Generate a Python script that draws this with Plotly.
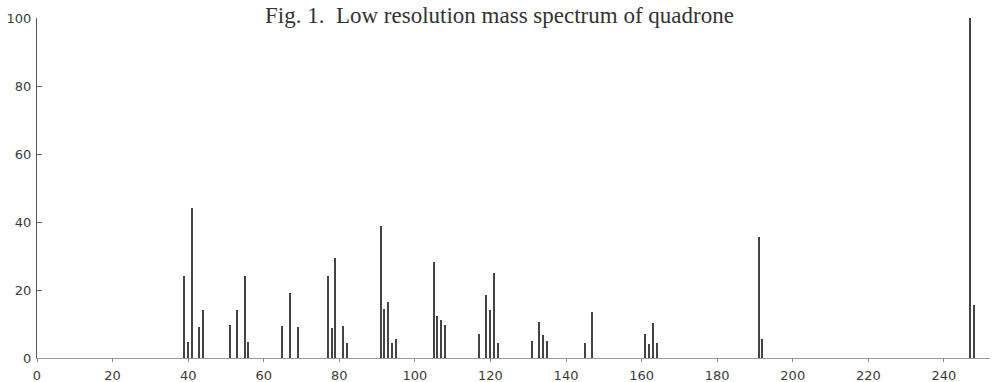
import plotly.graph_objects as go

# m/z values and relative intensities
mz = [39, 40, 41, 43, 44,
      51, 53, 55, 56,
      65, 67, 69,
      77, 78, 79, 81, 82,
      91, 92, 93, 94, 95,
      105, 106, 107, 108,
      117, 119, 120, 121, 122,
      131, 133, 134, 135,
      145, 147,
      161, 162, 163, 164,
      191, 192,
      247, 248]
intensity = [24, 4.6, 44, 9.2, 14,
             9.6, 14.2, 24, 4.6,
             9.4, 19, 9.1,
             24, 8.7, 29.3, 9.5, 4.3,
             38.7, 14.3, 16.6, 4.5, 5.5,
             28.3, 12.3, 11.3, 9.7,
             7.2, 18.6, 14, 25.1, 4.3,
             5, 10.5, 6.8, 5,
             4.3, 13.5,
             7, 4.2, 10.2, 4.5,
             35.5, 5.5,
             100, 15.7]

x_ticks = [0, 20, 40, 60, 80, 100, 120, 140, 160, 180, 200, 220, 240]
x_tick_labels = ["0", "20", "40", "60", "80", "100", "120", "140", "160", "180", "200", "220", "240"]
y_ticks = [0, 20, 40, 60, 80, 100]
y_tick_labels = ["0", "20", "40", "60", "80", "100"]

title_text = "Fig. 1.  Low resolution mass spectrum of quadrone"

fig = go.Figure()
fig.add_trace(go.Bar(
    x=mz, y=intensity, width=0.38,
    marker=dict(color="#444444", line=dict(width=0)),
    hoverinfo="x+y", showlegend=False,
))

tick_font = dict(family="DejaVu Sans", size=13, color="#3c3c3c")

fig.update_layout(
    width=995, height=382,
    margin=dict(l=37, r=5, t=18, b=24, autoexpand=False),
    paper_bgcolor="white", plot_bgcolor="white",
    bargap=0,
    xaxis=dict(range=[0, 252.2], tickvals=x_ticks, ticktext=x_tick_labels,
               showgrid=False, zeroline=False, showline=True, linecolor="#9a9a9a",
               linewidth=1, ticks="outside", ticklen=3, tickcolor="#888888",
               ticklabelstandoff=2, tickfont=tick_font, automargin=False),
    yaxis=dict(range=[0, 100], tickvals=y_ticks, ticktext=y_tick_labels,
               showgrid=False, zeroline=False, showline=True, linecolor="#555555",
               linewidth=1, ticks="inside", ticklen=5, tickcolor="#666666",
               ticklabelstandoff=2, tickfont=tick_font, automargin=False),
    annotations=[dict(text=title_text, xref="paper", yref="paper",
                      x=(499 - 37) / 953, y=1.006, xanchor="center", yanchor="middle",
                      showarrow=False,
                      font=dict(family="Liberation Serif", size=23, color="#333333"))],
)

fig.write_html("out.html", config={"displayModeBar": False},
               post_script="document.body.style.margin='0';document.body.style.overflow='hidden';")
